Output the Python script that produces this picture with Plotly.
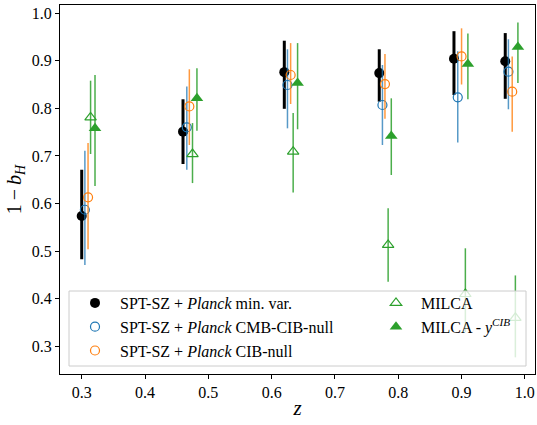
import plotly.graph_objects as go
import numpy as np

# ---- data ----
z_mv = [0.300, 0.460, 0.620, 0.770, 0.888, 0.969]
v_mv = [0.574, 0.751, 0.876, 0.874, 0.904, 0.899]
lo_mv = [0.483, 0.683, 0.799, 0.814, 0.828, 0.820]
hi_mv = [0.671, 0.819, 0.942, 0.924, 0.962, 0.958]

z_cmb = [0.305, 0.466, 0.625, 0.775, 0.894, 0.974]
v_cmb = [0.587, 0.760, 0.849, 0.807, 0.823, 0.877]
lo_cmb = [0.471, 0.671, 0.758, 0.723, 0.728, 0.798]
hi_cmb = [0.711, 0.846, 0.924, 0.891, 0.920, 0.945]

z_cib = [0.310, 0.470, 0.630, 0.779, 0.900, 0.980]
v_cib = [0.613, 0.804, 0.870, 0.851, 0.909, 0.835]
lo_cib = [0.504, 0.723, 0.809, 0.778, 0.850, 0.751]
hi_cib = [0.727, 0.882, 0.937, 0.914, 0.968, 0.909]

z_milca = [0.314, 0.475, 0.634, 0.784, 0.906, 0.985]
v_milca = [0.781, 0.704, 0.709, 0.513, 0.410, 0.360]
lo_milca = [0.704, 0.643, 0.623, 0.436, 0.330, 0.277]
hi_milca = [0.858, 0.769, 0.790, 0.590, 0.506, 0.449]

z_milcay = [0.321, 0.482, 0.641, 0.789, 0.910, 0.989]
v_milcay = [0.758, 0.821, 0.853, 0.742, 0.893, 0.929]
lo_milcay = [0.637, 0.753, 0.756, 0.660, 0.819, 0.853]
hi_milcay = [0.870, 0.884, 0.937, 0.821, 0.957, 0.980]

x_ticks = [0.3, 0.4, 0.5, 0.6, 0.7, 0.8, 0.9, 1.0]
y_ticks = [0.3, 0.4, 0.5, 0.6, 0.7, 0.8, 0.9, 1.0]

FONT = "'Liberation Serif', 'Times New Roman', 'DejaVu Serif', serif"
BLUE = "#1f77b4"
ORANGE = "#ff7f0e"
GREEN = "#2ca02c"


def errs(v, lo, hi):
    v = np.array(v); lo = np.array(lo); hi = np.array(hi)
    return (hi - v).tolist(), (v - lo).tolist()


fig = go.Figure()

def add(z, v, lo, hi, name, marker, ecolor, ethick, legend):
    up, dn = errs(v, lo, hi)
    fig.add_trace(go.Scatter(
        x=z, y=v, mode="markers", name=name, marker=marker,
        error_y=dict(type="data", array=up, arrayminus=dn, symmetric=False,
                     color=ecolor, thickness=ethick, width=0),
        legend=legend,
    ))

add(z_mv, v_mv, lo_mv, hi_mv, "SPT-SZ + <i>Planck</i> min. var.",
    dict(symbol="circle", size=10, color="black"), "black", 3, "legend")
add(z_cmb, v_cmb, lo_cmb, hi_cmb, "SPT-SZ + <i>Planck</i> CMB-CIB-null",
    dict(symbol="circle-open", size=9, color=BLUE, line=dict(width=1.2, color=BLUE)),
    "rgba(31,119,180,0.75)", 1.5, "legend")
add(z_cib, v_cib, lo_cib, hi_cib, "SPT-SZ + <i>Planck</i> CIB-null",
    dict(symbol="circle-open", size=9, color=ORANGE, line=dict(width=1.2, color=ORANGE)),
    "rgba(255,127,14,0.8)", 1.5, "legend")
add(z_milca, v_milca, lo_milca, hi_milca, "MILCA",
    dict(symbol="triangle-up-open", size=10, color=GREEN, line=dict(width=1.2, color=GREEN)),
    "rgba(44,160,44,0.85)", 1.5, "legend2")
add(z_milcay, v_milcay, lo_milcay, hi_milcay, "MILCA - <i>y</i><sup><i>CIB</i></sup>",
    dict(symbol="triangle-up", size=11, color=GREEN),
    "rgba(44,160,44,0.85)", 1.5, "legend2")

W, H = 537, 425
ml, mr, mt, mb = 60, 2, 5, 51
pw, ph = W - ml - mr, H - mt - mb

def px_x(p):
    return (p - ml) / pw

def px_y(p):
    return (H - mb - p) / ph

# legend frame (matplotlib-style box)
fig.add_shape(type="rect", xref="paper", yref="paper",
              x0=px_x(69), x1=px_x(526), y0=px_y(366), y1=px_y(291),
              fillcolor="rgba(255,255,255,0.8)", line=dict(color="#cccccc", width=1),
              layer="above")

axis_common = dict(
    showgrid=False, zeroline=False, showline=True, linecolor="black", linewidth=1,
    mirror=True, ticks="outside", ticklen=4, tickwidth=1, tickcolor="black",
    tickfont=dict(family=FONT, size=16, color="black"),
)

fig.update_layout(
    width=W, height=H,
    margin=dict(l=ml, r=mr, t=mt, b=mb, pad=0),
    plot_bgcolor="white", paper_bgcolor="white",
    font=dict(family=FONT, color="black"),
    xaxis=dict(range=[0.2657, 1.016], tickvals=x_ticks,
               ticktext=[f"{t:.1f}" for t in x_ticks],
               title=dict(text="<i>z</i>", font=dict(family=FONT, size=21), standoff=0),
               **axis_common),
    yaxis=dict(range=[0.242, 1.017], tickvals=y_ticks,
               ticktext=[f"{t:.1f}" for t in y_ticks],
               title=dict(text="1\u2009−\u2009<i>b</i><sub><i>H</i></sub>", font=dict(family=FONT, size=20), standoff=4),
               **axis_common),
    legend=dict(x=px_x(70), y=px_y(286), xanchor="left", yanchor="top",
                bgcolor="rgba(0,0,0,0)", borderwidth=0,
                font=dict(family=FONT, size=16, color="black"), itemwidth=40),
    legend2=dict(x=px_x(371), y=px_y(286), xanchor="left", yanchor="top",
                 bgcolor="rgba(0,0,0,0)", borderwidth=0,
                 font=dict(family=FONT, size=16, color="black"), itemwidth=40),
    showlegend=True,
)

fig.write_html("out.html", config={"displayModeBar": False},
               post_script="document.body.style.margin='0';document.body.style.overflow='hidden';")
